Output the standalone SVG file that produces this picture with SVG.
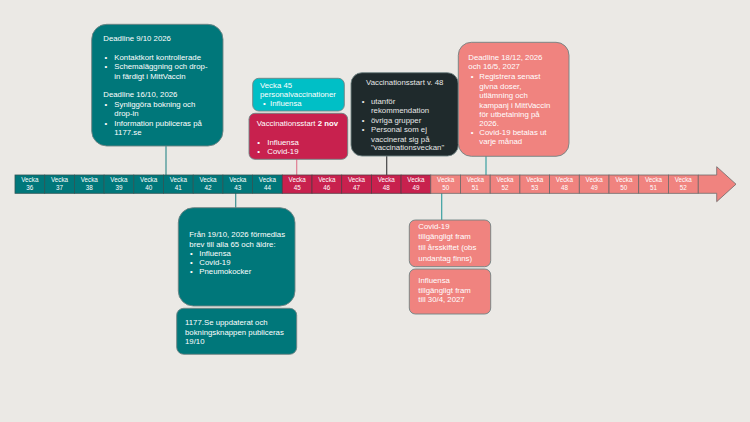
<svg xmlns="http://www.w3.org/2000/svg" width="750" height="422" viewBox="0 0 750 422">
<style>
text{font-family:"Liberation Sans",Arial,sans-serif;font-size:7.8px;fill:#ffffff}
.cell text{font-size:6.3px;text-anchor:middle}
.c1{fill:#00777A;stroke:#2d5656;stroke-width:0.8}
.c2{fill:#C8214E;stroke:#5a3a44;stroke-width:0.8}
.c3{fill:#F0837F;stroke:#6f6a6a;stroke-width:0.8}
.conn line{stroke-width:1.2}
.box{stroke:#6f8383;stroke-width:0.9}
</style>
<rect x="0" y="0" width="750" height="422" fill="#EBE9E5"/>
<g id="connectors" class="conn">
<line x1="166" y1="146" x2="166" y2="175" stroke="#3a8f8f"/>
<line x1="296.7" y1="159" x2="296.7" y2="175" stroke="#e07d92"/>
<line x1="386.7" y1="156" x2="386.7" y2="175" stroke="#444"/>
<line x1="486" y1="156" x2="486" y2="175" stroke="#3aa0a0"/>
<line x1="235.7" y1="193" x2="235.7" y2="208" stroke="#3a8f8f"/>
<line x1="441.7" y1="193" x2="441.7" y2="220" stroke="#3aa0a0"/>
</g>
<g id="timeline" class="cell">
<path d="M698,175 H716.7 V166.7 L736,184.2 L716.7,201.7 V193.3 H698 Z" fill="#F0837F" stroke="#6f6a6a" stroke-width="0.8"/>
<rect class="c1" x="15" y="175" width="29.7" height="18.3"/><text x="29.85" y="181.5">Vecka</text><text x="29.85" y="189.5">36</text>
<rect class="c1" x="44.7" y="175" width="29.7" height="18.3"/><text x="59.55" y="181.5">Vecka</text><text x="59.55" y="189.5">37</text>
<rect class="c1" x="74.4" y="175" width="29.7" height="18.3"/><text x="89.25" y="181.5">Vecka</text><text x="89.25" y="189.5">38</text>
<rect class="c1" x="104.1" y="175" width="29.7" height="18.3"/><text x="118.95" y="181.5">Vecka</text><text x="118.95" y="189.5">39</text>
<rect class="c1" x="133.8" y="175" width="29.7" height="18.3"/><text x="148.65" y="181.5">Vecka</text><text x="148.65" y="189.5">40</text>
<rect class="c1" x="163.5" y="175" width="29.7" height="18.3"/><text x="178.35" y="181.5">Vecka</text><text x="178.35" y="189.5">41</text>
<rect class="c1" x="193.2" y="175" width="29.7" height="18.3"/><text x="208.05" y="181.5">Vecka</text><text x="208.05" y="189.5">42</text>
<rect class="c1" x="222.9" y="175" width="29.7" height="18.3"/><text x="237.75" y="181.5">Vecka</text><text x="237.75" y="189.5">43</text>
<rect class="c1" x="252.6" y="175" width="29.7" height="18.3"/><text x="267.45" y="181.5">Vecka</text><text x="267.45" y="189.5">44</text>
<rect class="c2" x="282.3" y="175" width="29.7" height="18.3"/><text x="297.15" y="181.5">Vecka</text><text x="297.15" y="189.5">45</text>
<rect class="c2" x="312" y="175" width="29.7" height="18.3"/><text x="326.85" y="181.5">Vecka</text><text x="326.85" y="189.5">46</text>
<rect class="c2" x="341.7" y="175" width="29.7" height="18.3"/><text x="356.55" y="181.5">Vecka</text><text x="356.55" y="189.5">47</text>
<rect class="c2" x="371.4" y="175" width="29.7" height="18.3"/><text x="386.25" y="181.5">Vecka</text><text x="386.25" y="189.5">48</text>
<rect class="c2" x="401.1" y="175" width="29.7" height="18.3"/><text x="415.95" y="181.5">Vecka</text><text x="415.95" y="189.5">49</text>
<rect class="c3" x="430.8" y="175" width="29.7" height="18.3"/><text x="445.65" y="181.5">Vecka</text><text x="445.65" y="189.5">50</text>
<rect class="c3" x="460.5" y="175" width="29.7" height="18.3"/><text x="475.35" y="181.5">Vecka</text><text x="475.35" y="189.5">51</text>
<rect class="c3" x="490.2" y="175" width="29.7" height="18.3"/><text x="505.05" y="181.5">Vecka</text><text x="505.05" y="189.5">52</text>
<rect class="c3" x="519.9" y="175" width="29.7" height="18.3"/><text x="534.75" y="181.5">Vecka</text><text x="534.75" y="189.5">53</text>
<rect class="c3" x="549.6" y="175" width="29.7" height="18.3"/><text x="564.45" y="181.5">Vecka</text><text x="564.45" y="189.5">48</text>
<rect class="c3" x="579.3" y="175" width="29.7" height="18.3"/><text x="594.15" y="181.5">Vecka</text><text x="594.15" y="189.5">49</text>
<rect class="c3" x="609" y="175" width="29.7" height="18.3"/><text x="623.85" y="181.5">Vecka</text><text x="623.85" y="189.5">50</text>
<rect class="c3" x="638.7" y="175" width="29.7" height="18.3"/><text x="653.55" y="181.5">Vecka</text><text x="653.55" y="189.5">51</text>
<rect class="c3" x="668.4" y="175" width="29.7" height="18.3"/><text x="683.25" y="181.5">Vecka</text><text x="683.25" y="189.5">52</text>
</g>
<g id="deadline-oct">
<rect class="box" x="91.7" y="24.3" width="131.3" height="121.7" rx="15" fill="#00777A" stroke="#4d8a8a"/>
<text x="103.3" y="41">Deadline 9/10 2026</text>
<text x="104.5" y="60">•</text><text x="114.3" y="60">Kontaktkort kontrollerade</text>
<text x="104.5" y="69.3">•</text><text x="114.3" y="69.3">Schemaläggning och drop-</text>
<text x="114.3" y="78.6">in färdigt i MittVaccin</text>
<text x="103.3" y="97.4">Deadline 16/10, 2026</text>
<text x="104.5" y="106.7">•</text><text x="114.3" y="106.7">Synliggöra bokning och</text>
<text x="114.3" y="116">drop-in</text>
<text x="104.5" y="125.5">•</text><text x="114.3" y="125.5">Information publiceras på</text>
<text x="114.3" y="134.8">1177.se</text>
</g>
<g id="vecka45">
<rect class="box" x="252.7" y="78.3" width="91.6" height="32.7" rx="6" fill="#00BFC6" stroke="#4d9a9a"/>
<text x="260" y="88">Vecka 45</text>
<text x="260" y="97.2">personalvaccinationer</text>
<text x="263" y="106.4">•</text><text x="270" y="106.4">Influensa</text>
</g>
<g id="vaccstart-2nov">
<rect class="box" x="249" y="113.3" width="98.7" height="46" rx="6" fill="#C8214E" stroke="#7a4a55"/>
<text x="256.7" y="126">Vaccinationsstart <tspan font-weight="bold">2 nov</tspan></text>
<text x="257.3" y="144.5">•</text><text x="267.3" y="144.5">Influensa</text>
<text x="257.3" y="153.8">•</text><text x="267.3" y="153.8">Covid-19</text>
</g>
<g id="vaccstart-v48">
<rect class="box" x="351" y="72.7" width="107.3" height="83.3" rx="11" fill="#1F2A2C" stroke="#5a6a6a"/>
<text x="404.7" y="85" text-anchor="middle" style="fill:#e6e6e6">Vaccinationsstart v. 48</text>
<text x="361.7" y="103.7" style="fill:#e6e6e6">•</text><text x="371" y="103.7" style="fill:#e6e6e6">utanför</text>
<text x="371" y="113.2" style="fill:#e6e6e6">rekommendation</text>
<text x="361.7" y="122.7" style="fill:#e6e6e6">•</text><text x="371" y="122.7" style="fill:#e6e6e6">övriga grupper</text>
<text x="361.7" y="132.2" style="fill:#e6e6e6">•</text><text x="371" y="132.2" style="fill:#e6e6e6">Personal som ej</text>
<text x="371" y="141.6" style="fill:#e6e6e6">vaccinerat sig på</text>
<text x="371" y="150.4" style="fill:#e6e6e6">"vaccinationsveckan"</text>
</g>
<g id="deadline-dec">
<rect class="box" x="458.3" y="42.3" width="110.7" height="114" rx="13" fill="#F0837F" stroke="#6f8383"/>
<text x="468.3" y="59.7">Deadline 18/12, 2026</text>
<text x="468.3" y="69">och 16/5, 2027</text>
<text x="470.7" y="79">•</text><text x="479.3" y="79">Registrera senast</text>
<text x="479.3" y="88.5">givna doser,</text>
<text x="479.3" y="98">utlämning och</text>
<text x="479.3" y="107.5">kampanj i MittVaccin</text>
<text x="479.3" y="117">för utbetalning på</text>
<text x="479.3" y="126.4">2026.</text>
<text x="470.7" y="135">•</text><text x="479.3" y="135">Covid-19 betalas ut</text>
<text x="479.3" y="144.4">varje månad</text>
</g>
<g id="brev-1910">
<rect class="box" x="178.3" y="207.7" width="116.7" height="98.3" rx="15" fill="#00777A" stroke="#4d8a8a"/>
<text x="189.3" y="237">Från 19/10, 2026 förmedlas</text>
<text x="189.3" y="246.7">brev till alla 65 och äldre:</text>
<text x="190" y="256">•</text><text x="199.3" y="256">Influensa</text>
<text x="190" y="265.4">•</text><text x="199.3" y="265.4">Covid-19</text>
<text x="190" y="274.4">•</text><text x="199.3" y="274.4">Pneumokocker</text>
</g>
<g id="uppdaterat-1177">
<rect class="box" x="176.7" y="308.3" width="120" height="46" rx="7" fill="#00777A" stroke="#4d8a8a"/>
<text x="185" y="325.4">1177.Se uppdaterat och</text>
<text x="185" y="334.7">bokningsknappen publiceras</text>
<text x="185" y="343.8">19/10</text>
</g>
<g id="covid-tillganglig">
<rect class="box" x="409.3" y="220" width="81.4" height="46.7" rx="6" fill="#F0837F" stroke="#6f8383"/>
<text x="418.3" y="228.8">Covid-19</text>
<text x="418.3" y="239.4">tillgängligt fram</text>
<text x="418.3" y="250">till årsskiftet (obs</text>
<text x="418.3" y="260.6">undantag finns)</text>
</g>
<g id="influensa-tillganglig">
<rect class="box" x="409.3" y="269" width="81.4" height="45" rx="6" fill="#F0837F" stroke="#6f8383"/>
<text x="418.3" y="283.4">Influensa</text>
<text x="418.3" y="292.8">tillgängligt fram</text>
<text x="418.3" y="302">till 30/4, 2027</text>
</g>
</svg>
